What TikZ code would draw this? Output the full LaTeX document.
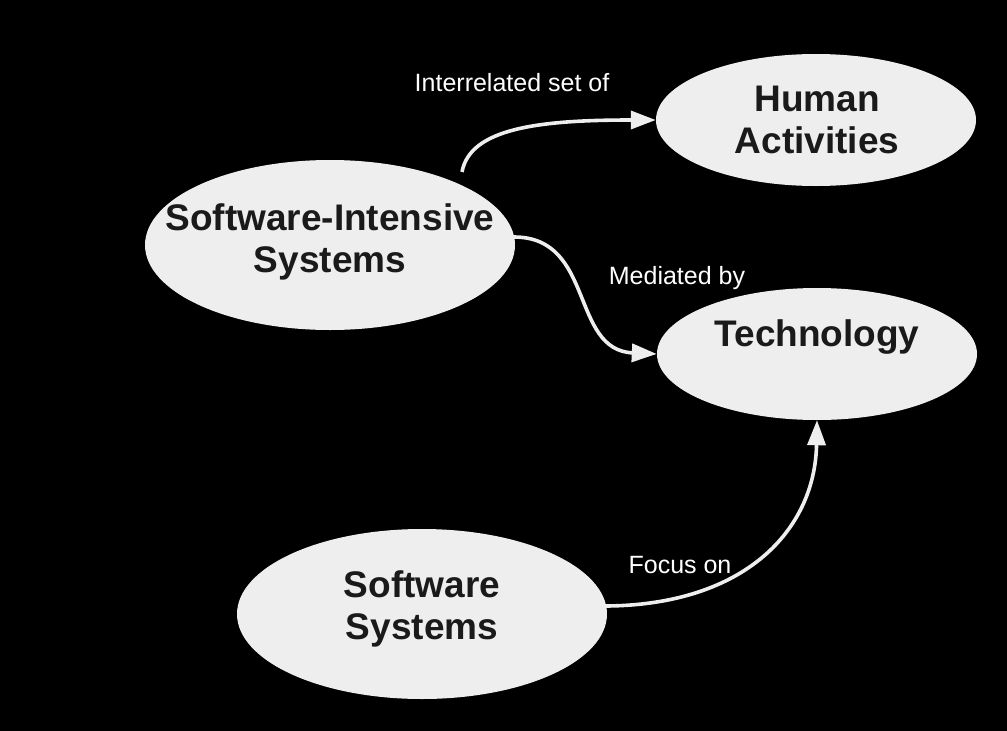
\documentclass[tikz,border=0pt]{standalone}
\usepackage{fontspec}
\setmainfont{Liberation Sans}
\usetikzlibrary{shapes.geometric,arrows.meta}
\definecolor{bubble}{HTML}{EEEEEE}
\definecolor{ink}{HTML}{1A1A1A}
\tikzset{
  ell/.style={ellipse, fill=bubble, draw=none, inner sep=0pt},
  txt/.style={text=ink, align=center, inner sep=0pt,
    font=\fontsize{37}{41.5}\selectfont\bfseries},
  lbl/.style={text=white, inner sep=0pt, font=\fontsize{25}{29}\selectfont},
  conn/.style={draw=bubble, line width=3.6pt, -{Triangle[length=25pt,width=18pt]}},
}
\begin{document}
\begin{tikzpicture}[x=1pt,y=-1pt]
\fill[black] (0,0) rectangle (1007,731);
\useasboundingbox (0,0) rectangle (1007,731);
\node[ell, minimum width=370pt, minimum height=170pt] (sis) at (330,245) {};
\node[ell, minimum width=320pt, minimum height=132pt] (human) at (816,120) {};
\node[ell, minimum width=320pt, minimum height=132pt] (tech) at (817,354) {};
\node[ell, minimum width=370pt, minimum height=170pt] (soft) at (422,614) {};
\node[txt] (sistext) at (330,242) {Software-Intensive\\Systems};
\node[txt] (humantext) at (817,120) {Human\\Activities};
\node[txt] (techtext) at (817,337) {Technology};
\node[txt] (softtext) at (422,609) {Software\\Systems};
\node[lbl] (l1) at (512,83) {Interrelated set of};
\node[lbl] (l2) at (677,278) {Mediated by};
\node[lbl] (l3) at (680,565) {Focus on};
\coordinate (a1) at (462,172);
\coordinate (a2) at (514,237);
\coordinate (a3) at (606,606);
\draw[conn] (a1) .. controls (470,128) and (540,120) .. (human.west);
\draw[conn] (a2) .. controls (595,237) and (570,350) .. (tech.west);
\draw[conn] (a3) .. controls (745,605) and (815,530) .. (tech.south);
\end{tikzpicture}
\end{document}
